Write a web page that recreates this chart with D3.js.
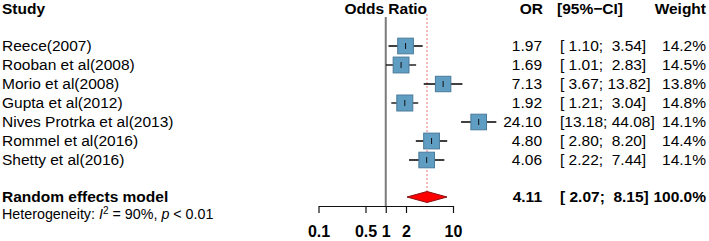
<!DOCTYPE html>
<html>
<head>
<meta charset="utf-8">
<script src="https://cdn.jsdelivr.net/npm/d3@7"></script>
<style>
  body { margin: 0; background: #fff; }
  svg text { font-family: "Liberation Sans", Arial, sans-serif; white-space: pre; }
</style>
</head>
<body>
<svg width="709" height="241"></svg>
<script>
var studies = ["Reece(2007)", "Rooban et al(2008)", "Morio et al(2008)", "Gupta et al(2012)",
	"Nives Protrka et al(2013)", "Rommel et al(2016)", "Shetty et al(2016)"];
var orValues = [1.97, 1.69, 7.13, 1.92, 24.10, 4.80, 4.06];
var lowerCI = [1.10, 1.01, 3.67, 1.21, 13.18, 2.80, 2.22];
var upperCI = [3.54, 2.83, 13.82, 3.04, 44.08, 8.20, 7.44];
var weights = [14.2, 14.5, 13.8, 14.8, 14.1, 14.4, 14.1];
var pooled = [4.11, 2.07, 8.15];
var tickValues = [0.1, 0.5, 1, 2, 10];

var svg = d3.select("svg");
var fs = 15.5;

var x = d3.scaleLog().domain([0.1, 10]).range([318.5, 453]);
var row = d3.scaleLinear().domain([0, 1]).range([46, 65]);
var boxSize = d3.scaleSqrt().domain([0, 14.8]).range([0, 16]);
var f2 = d3.format(".2f");
function pad(s, n) { while (s.length < n) s = " " + s; return s; }
function ciText(l, u) { return "[" + pad(f2(l), 5) + "; " + pad(f2(u), 5) + "]"; }

var axisY = 206;

// headers
var head = svg.append("g").attr("font-weight", "bold").attr("font-size", fs);
head.append("text").attr("x", 2).attr("y", 14).text("Study");
head.append("text").attr("x", x(1)).attr("y", 14).attr("text-anchor", "middle").text("Odds Ratio");
head.append("text").attr("x", 543).attr("y", 14).attr("text-anchor", "end").text("OR");
head.append("text").attr("x", 557).attr("y", 14).text("[95%\u2212CI]");
head.append("text").attr("x", 706).attr("y", 14).attr("text-anchor", "end").text("Weight");

// reference lines
svg.append("line")
	.attr("x1", x(pooled[0])).attr("x2", x(pooled[0]))
	.attr("y1", 14).attr("y2", 191)
	.attr("stroke", "#ee7777").attr("stroke-width", 1).attr("stroke-dasharray", "2,2");
svg.append("line")
	.attr("x1", x(1)).attr("x2", x(1))
	.attr("y1", 17).attr("y2", axisY)
	.attr("stroke", "#7a7a7a").attr("stroke-width", 2);

// studies
var g = svg.append("g").selectAll("g")
	.data(studies)
	.enter().append("g");

g.append("line")
	.attr("x1", (d, i) => x(lowerCI[i])).attr("x2", (d, i) => x(upperCI[i]))
	.attr("y1", (d, i) => row(i)).attr("y2", (d, i) => row(i))
	.attr("stroke", "#000").attr("stroke-width", 1.3);
g.append("rect")
	.attr("x", (d, i) => x(orValues[i]) - boxSize(weights[i]) / 2)
	.attr("y", (d, i) => row(i) - boxSize(weights[i]) / 2)
	.attr("width", (d, i) => boxSize(weights[i]))
	.attr("height", (d, i) => boxSize(weights[i]))
	.attr("fill", "#5f9dc2").attr("stroke", "#4a7a9a").attr("stroke-width", 1);
g.append("line")
	.attr("x1", (d, i) => x(orValues[i])).attr("x2", (d, i) => x(orValues[i]))
	.attr("y1", (d, i) => row(i) - 3).attr("y2", (d, i) => row(i) + 3)
	.attr("stroke", "#111").attr("stroke-width", 1);

g.append("text").attr("x", 2).attr("y", (d, i) => row(i)).attr("dy", "0.35em")
	.attr("font-size", fs).text(d => d);
g.append("text").attr("x", 542).attr("y", (d, i) => row(i)).attr("dy", "0.35em")
	.attr("font-size", fs).attr("text-anchor", "end").text((d, i) => f2(orValues[i]));
g.append("text").attr("x", 560).attr("y", (d, i) => row(i)).attr("dy", "0.35em")
	.attr("font-size", fs).text((d, i) => ciText(lowerCI[i], upperCI[i]));
g.append("text").attr("x", 706).attr("y", (d, i) => row(i)).attr("dy", "0.35em")
	.attr("font-size", fs).attr("text-anchor", "end").text((d, i) => weights[i].toFixed(1) + "%");

// pooled
var py = row(8) - 1;
svg.append("polygon")
	.attr("points", [[x(pooled[1]), py], [x(pooled[0]), py - 5.5], [x(pooled[2]), py], [x(pooled[0]), py + 5.5]].join(" "))
	.attr("fill", "#ff0000").attr("stroke", "#8b1010").attr("stroke-width", 1);

var pg = svg.append("g").attr("font-weight", "bold").attr("font-size", fs);
pg.append("text").attr("x", 2).attr("y", py).attr("dy", "0.35em").text("Random effects model");
pg.append("text").attr("x", 542).attr("y", py).attr("dy", "0.35em").attr("text-anchor", "end").text(f2(pooled[0]));
pg.append("text").attr("x", 560).attr("y", py).attr("dy", "0.35em").text(ciText(pooled[1], pooled[2]));
pg.append("text").attr("x", 706).attr("y", py).attr("dy", "0.35em").attr("text-anchor", "end").text("100.0%");

var het = svg.append("text").attr("x", 2).attr("y", 214).attr("dy", "0.35em").attr("font-size", 14.3);
het.append("tspan").text("Heterogeneity: ");
het.append("tspan").attr("font-style", "italic").text("I");
het.append("tspan").attr("font-size", 10).attr("dy", "-0.5em").text("2");
het.append("tspan").attr("dy", "0.35em").text(" = 90%, ");
het.append("tspan").attr("font-style", "italic").text("p");
het.append("tspan").text(" < 0.01");

// axis
var axis = svg.append("g")
	.attr("transform", "translate(0," + axisY + ")")
	.call(d3.axisBottom(x).tickValues(tickValues).tickSize(7).tickPadding(13).tickSizeOuter(0)
		.tickFormat(d => String(d)));
axis.select(".domain").attr("stroke", "#111").attr("stroke-width", 1.2);
axis.selectAll(".tick line").attr("stroke", "#111").attr("stroke-width", 1.2);
axis.selectAll(".tick text").attr("font-size", 16).attr("font-weight", "bold")
	.attr("font-family", "Liberation Sans, Arial, sans-serif").attr("fill", "#000");
</script>
</body>
</html>
